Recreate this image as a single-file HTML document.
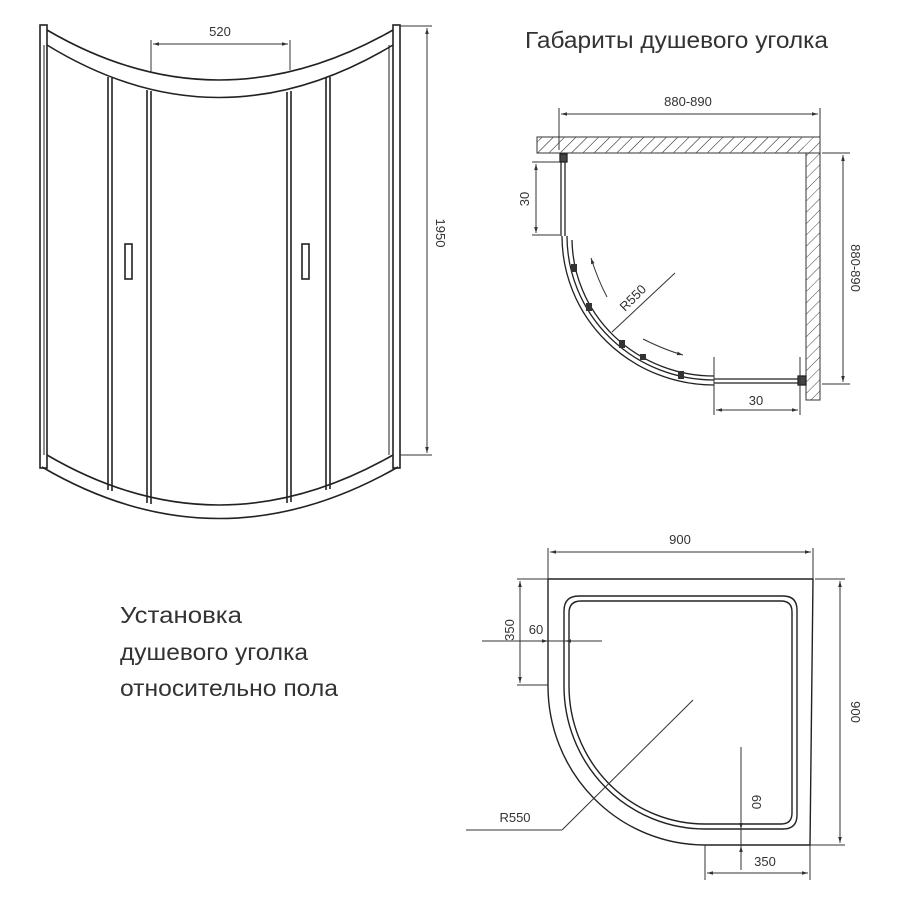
<!DOCTYPE html>
<html><head><meta charset="utf-8"><style>
html,body{margin:0;padding:0;background:#fff}
svg{display:block}
text{font-family:"Liberation Sans",sans-serif;fill:#333}
</style></head><body>
<svg width="900" height="900" viewBox="0 0 900 900" xmlns="http://www.w3.org/2000/svg">
<defs>
<marker id="a" viewBox="0 0 10 10" refX="10" refY="5" markerWidth="8" markerHeight="6" orient="auto-start-reverse"><path d="M0,2 L10,5 L0,8" fill="#333"/></marker>
<pattern id="h" width="8" height="8" patternUnits="userSpaceOnUse" patternTransform="rotate(45)"><line x1="0" y1="0" x2="0" y2="8" stroke="#444" stroke-width="1"/></pattern>
</defs>
<g fill="none" stroke="#222" stroke-width="1.6">
<!-- front view -->
<rect x="40" y="25" width="7" height="443"/>
<rect x="393" y="25" width="7" height="443"/>
<line x1="44" y1="45" x2="44" y2="455" stroke-width="1"/>
<line x1="389" y1="45" x2="389" y2="455" stroke-width="1"/>
<path d="M47,30 Q218,130 393,30"/>
<path d="M47,45 Q218,150 393,45"/>
<path d="M47,455 Q218,555 393,455"/>
<path d="M42,467 Q218,570 398,467"/>
<line x1="108" y1="77" x2="108" y2="490"/><line x1="112" y1="78" x2="112" y2="491"/>
<line x1="147" y1="90" x2="147" y2="503"/><line x1="151" y1="91" x2="151" y2="504"/>
<line x1="287" y1="92" x2="287" y2="503"/><line x1="291" y1="91" x2="291" y2="502"/>
<line x1="326" y1="78" x2="326" y2="490"/><line x1="330" y1="77" x2="330" y2="489"/>
<rect x="125" y="244" width="7" height="35"/>
<rect x="302" y="244" width="7" height="35"/>
</g>
<g stroke="#333" stroke-width="1" fill="none">
<line x1="151" y1="40" x2="151" y2="73"/><line x1="290" y1="40" x2="290" y2="70"/>
<line x1="153" y1="44" x2="288" y2="44" marker-start="url(#a)" marker-end="url(#a)"/>
<line x1="400" y1="26" x2="432" y2="26"/><line x1="400" y1="455" x2="432" y2="455"/>
<line x1="427" y1="28" x2="427" y2="453" marker-start="url(#a)" marker-end="url(#a)"/>
</g>
<text x="220" y="36" font-size="13" text-anchor="middle">520</text>
<text transform="translate(436,233) rotate(90)" font-size="13" text-anchor="middle">1950</text>

<text x="525" y="48" font-size="23" textLength="303" lengthAdjust="spacingAndGlyphs">Габариты душевого уголка</text>

<!-- plan top -->
<rect x="537" y="137" width="283" height="16" fill="url(#h)" stroke="#333"/>
<rect x="806" y="153" width="14" height="247" fill="url(#h)" stroke="#333"/>
<rect x="539" y="138" width="265" height="14" fill="url(#h)" stroke="none"/>
<g fill="none" stroke="#222" stroke-width="1.3">
<line x1="561" y1="155" x2="561" y2="236"/><line x1="565" y1="155" x2="565" y2="236"/>
<path d="M562,236 A152,149 0 0 0 714,385"/>
<path d="M567,236 A147,144 0 0 0 714,380"/>
<path d="M572,240 A142,138 0 0 0 714,376"/>
<line x1="714" y1="383" x2="802" y2="383"/><line x1="714" y1="379" x2="802" y2="379"/>
<rect x="560" y="154" width="7" height="8" fill="#444"/>
<rect x="798" y="376" width="8" height="9" fill="#444"/>
</g>
<g fill="#333">
<rect x="571" y="264" width="6" height="8"/><rect x="586" y="303" width="6" height="8"/>
<rect x="619" y="340" width="6" height="8"/><rect x="678" y="371" width="6" height="8"/>
<rect x="640" y="354" width="6" height="6"/>
</g>
<g stroke="#333" stroke-width="1" fill="none">
<line x1="559" y1="108" x2="559" y2="150"/><line x1="820" y1="108" x2="820" y2="137"/>
<line x1="561" y1="114" x2="818" y2="114" marker-start="url(#a)" marker-end="url(#a)"/>
<line x1="532" y1="162" x2="560" y2="162"/><line x1="532" y1="235" x2="560" y2="235"/>
<line x1="536" y1="164" x2="536" y2="233" marker-start="url(#a)" marker-end="url(#a)"/>
<line x1="714" y1="357" x2="714" y2="415"/><line x1="800" y1="357" x2="800" y2="415"/>
<line x1="716" y1="410" x2="798" y2="410" marker-start="url(#a)" marker-end="url(#a)"/>
<line x1="822" y1="153" x2="850" y2="153"/><line x1="822" y1="384" x2="850" y2="384"/>
<line x1="843" y1="155" x2="843" y2="382" marker-start="url(#a)" marker-end="url(#a)"/>
<line x1="675" y1="273" x2="612" y2="332"/>
<path d="M607,297 Q598,280 591,258" marker-end="url(#a)"/>
<path d="M643,339 Q665,350 683,355" marker-end="url(#a)"/>
</g>
<text x="688" y="106" font-size="13" text-anchor="middle">880-890</text>
<text transform="translate(529,199) rotate(-90)" font-size="13" text-anchor="middle">30</text>
<text x="756" y="405" font-size="13" text-anchor="middle">30</text>
<text transform="translate(851,268) rotate(90)" font-size="13" text-anchor="middle">880-890</text>
<text transform="translate(636,301) rotate(-45)" font-size="13" text-anchor="middle">R550</text>

<!-- left text -->
<text x="120" y="623" font-size="23" textLength="122" lengthAdjust="spacingAndGlyphs">Установка</text>
<text x="120" y="660" font-size="23" textLength="188" lengthAdjust="spacingAndGlyphs">душевого уголка</text>
<text x="120" y="696" font-size="23" textLength="218" lengthAdjust="spacingAndGlyphs">относительно пола</text>

<!-- tray -->
<g fill="none" stroke="#222" stroke-width="1.4">
<path d="M548,579 L813,579 L810,845 L705,845 A157,159 0 0 1 548,686 Z"/>
<path d="M579,596 L783,596 Q797,596 797,610 L797,815 Q797,829 783,829 L705,829 A141,143 0 0 1 564,686 L564,611 Q564,596 579,596 Z"/>
<path d="M581,601 L781,601 Q792,601 792,612 L792,813 Q792,824 781,824 L705,824 A136,138 0 0 1 569,686 L569,613 Q569,601 581,601 Z"/>
</g>
<g stroke="#333" stroke-width="1" fill="none">
<line x1="548" y1="548" x2="548" y2="579"/><line x1="813" y1="548" x2="813" y2="579"/>
<line x1="550" y1="552" x2="811" y2="552" marker-start="url(#a)" marker-end="url(#a)"/>
<line x1="815" y1="579" x2="845" y2="579"/><line x1="810" y1="845" x2="845" y2="845"/>
<line x1="840" y1="581" x2="840" y2="843" marker-start="url(#a)" marker-end="url(#a)"/>
<line x1="517" y1="579" x2="548" y2="579"/><line x1="517" y1="685" x2="548" y2="685"/>
<line x1="520" y1="581" x2="520" y2="683" marker-start="url(#a)" marker-end="url(#a)"/>
<line x1="482" y1="641" x2="602" y2="641"/>
<line x1="538" y1="641" x2="548" y2="641" marker-end="url(#a)"/>
<line x1="575" y1="641" x2="565" y2="641" marker-end="url(#a)"/>
<line x1="466" y1="830" x2="562" y2="830"/><line x1="562" y1="830" x2="693" y2="700"/>
<line x1="741" y1="747" x2="741" y2="870"/>
<line x1="741" y1="815" x2="741" y2="829" marker-end="url(#a)"/>
<line x1="741" y1="858" x2="741" y2="846" marker-end="url(#a)"/>
<line x1="705" y1="845" x2="705" y2="880"/><line x1="810" y1="845" x2="810" y2="880"/>
<line x1="707" y1="873" x2="808" y2="873" marker-start="url(#a)" marker-end="url(#a)"/>
</g>
<text x="680" y="544" font-size="13" text-anchor="middle">900</text>
<text transform="translate(851,712) rotate(90)" font-size="13" text-anchor="middle">900</text>
<text transform="translate(514,630) rotate(-90)" font-size="13" text-anchor="middle">350</text>
<text x="536" y="634" font-size="13" text-anchor="middle">60</text>
<text x="515" y="822" font-size="13" text-anchor="middle">R550</text>
<text transform="translate(752,802) rotate(90)" font-size="13" text-anchor="middle">60</text>
<text x="765" y="866" font-size="13" text-anchor="middle">350</text>
</svg>
</body></html>
